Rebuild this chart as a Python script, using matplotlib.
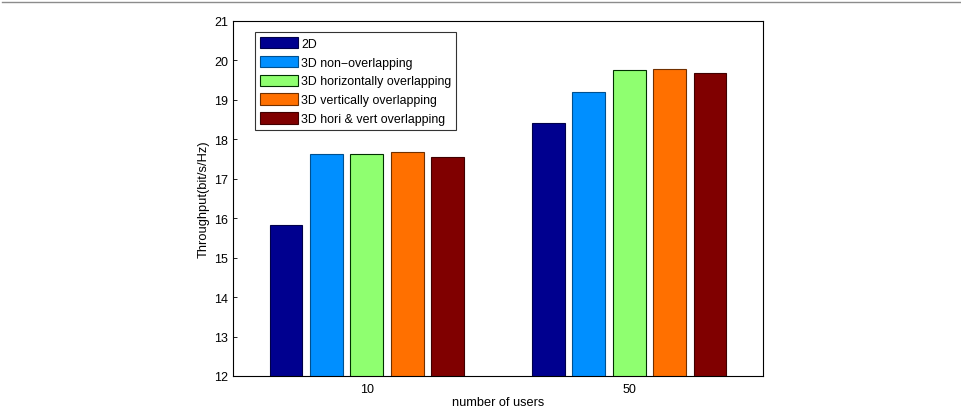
import matplotlib
matplotlib.use("Agg")
import matplotlib.pyplot as plt
from matplotlib.lines import Line2D
import numpy as np

plt.rcParams['font.family'] = ['Liberation Sans', 'DejaVu Sans']

categories = ["10", "50"]
series = ["2D", "3D non\u2212overlapping", "3D horizontally overlapping",
          "3D vertically overlapping", "3D hori & vert overlapping"]
values = [
    [15.83, 18.42],
    [17.62, 19.20],
    [17.64, 19.76],
    [17.67, 19.78],
    [17.55, 19.67],
]
colors = ["#00008f", "#008fff", "#8fff70", "#ff7000", "#800000"]
edges = ["#00004a", "#00508f", "#003000", "#703000", "#400000"]

fig = plt.figure(figsize=(9.62, 4.10), dpi=100)
fig.lines.append(Line2D([0.002, 0.998], [0.9925, 0.9925], transform=fig.transFigure,
                        color="#8c8c8c", linewidth=1.0))
ax = fig.add_axes([0.2422, 0.0805, 0.5509, 0.8659])

x = np.arange(1, len(categories) + 1)
step = 0.154
width = 0.125
for i, (name, vals) in enumerate(zip(series, values)):
    ax.bar(x + (i - 2) * step, vals, width=width, color=colors[i],
           edgecolor=edges[i], linewidth=0.8, label=name, zorder=2)

ax.set_xlim(0.49, 2.51)
ax.set_ylim(12, 21)
ax.set_yticks(range(12, 22))
ax.set_xticks(x)
ax.set_xticklabels(categories)
ax.tick_params(direction='in', length=3, labelsize=9, width=0.6, top=False, right=False)
ax.tick_params(axis='x', pad=5)
for s in ax.spines.values():
    s.set_linewidth(0.8)
ax.set_xlabel("number of users", fontsize=9.2, labelpad=1)
ax.set_ylabel("Throughput(bit/s/Hz)", fontsize=9.3, labelpad=3)

leg = ax.legend(loc='upper left', bbox_to_anchor=(0.042, 0.968), fontsize=8.9,
                frameon=True, fancybox=False, edgecolor='black',
                handlelength=3.1, handleheight=1.06, handletextpad=0.25,
                labelspacing=0.48, borderpad=0.35, borderaxespad=0)
leg.get_frame().set_linewidth(0.8)

fig.savefig("out.png", dpi=100)
